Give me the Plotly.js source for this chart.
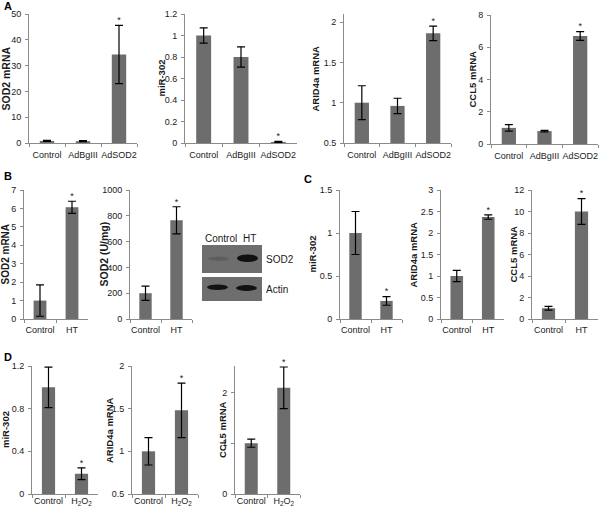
<!DOCTYPE html>
<html>
<head>
<meta charset="utf-8">
<script src="https://cdn.plot.ly/plotly-3.0.1.min.js"></script>
<style>
  html, body { margin: 0; padding: 0; background: #fff; }
  #chart { width: 600px; height: 508px; }
</style>
</head>
<body>
<div id="chart"></div>
<script>
// ---------- DATA ----------
const groupsA = ['Control', 'AdBgIII', 'AdSOD2'];
const groupsHT = ['Control', 'HT'];
const groupsH2O2 = ['Control', 'H<sub>2</sub>O<sub>2</sub>'];

// Panel A
const aSod2 = [0.8, 0.7, 34.3];       const aSod2Err = [0.2, 0.2, 11.3];
const aMir302 = [1.0, 0.80, 0.01];    const aMir302Err = [0.07, 0.095, 0.005];
const aArid4a = [1.0, 0.96, 1.86];    const aArid4aErr = [0.21, 0.095, 0.09];
const aCcl5 = [1.0, 0.8, 6.7];        const aCcl5Err = [0.2, 0.05, 0.27];
const sigA = [false, false, true];

// Panel B
const bSod2 = [1.0, 6.06];            const bSod2Err = [0.85, 0.33];
const bSod2Act = [200, 765];          const bSod2ActErr = [55, 105];
const sigB = [false, true];

// Panel C
const cMir302 = [1.0, 0.21];          const cMir302Err = [0.25, 0.05];
const cArid4a = [1.0, 2.37];          const cArid4aErr = [0.13, 0.05];
const cCcl5 = [1.0, 10.0];            const cCcl5Err = [0.18, 1.2];
const sigC = [false, true];

// Panel D
const dMir302 = [1.0, 0.19];          const dMir302Err = [0.19, 0.055];
const dArid4a = [1.0, 1.48];          const dArid4aErr = [0.16, 0.32];
const dCcl5 = [1.0, 2.09];            const dCcl5Err = [0.08, 0.41];
const sigD = [false, true];

// Blot labels
const blotLanes = ['Control', 'HT'];
const blotProteins = ['SOD2', 'Actin'];

// ---------- LAYOUT HELPERS ----------
const W = 600, H = 508;
const px = v => v / W;
const py = v => 1 - v / H;
const FONT = 'Arial, "Liberation Sans", Helvetica, sans-serif';
const BAR = '#6d6d6d';
const AXIS = '#8a8a8a';
const TXT = '#1a1a1a';

const panels = [
  {cats: groupsA, y: aSod2, e: aSod2Err, sig: sigA, title: 'SOD2 mRNA', ts: 10.5, x0: 29, x1: 137, top: 14, bot: 143, range: [0, 50], dtick: 10, tx: 6, xs: 3},
  {cats: groupsA, y: aMir302, e: aMir302Err, sig: sigA, title: 'miR-302', ts: 9.5, x0: 185, x1: 297, top: 14, bot: 143, range: [0, 1.2], dtick: 0.2, tx: 161, xs: 3},
  {cats: groupsA, y: aArid4a, e: aArid4aErr, sig: sigA, title: 'ARID4a mRNA', ts: 9.5, x0: 344, x1: 451, top: 14, bot: 143, range: [0.5, 2.1], tickvals: [0.5, 1, 1.5, 2], tx: 315, xs: 3},
  {cats: groupsA, y: aCcl5, e: aCcl5Err, sig: sigA, title: 'CCL5 mRNA', ts: 9.5, x0: 491, x1: 598, top: 15, bot: 144, range: [0, 8], dtick: 2, tx: 472, xs: 3},

  {cats: groupsHT, y: bSod2, e: bSod2Err, sig: sigB, title: 'SOD2 mRNA', ts: 10, x0: 24, x1: 88, top: 190, bot: 319, range: [0, 7], dtick: 1, tx: 5, xs: 2},
  {cats: groupsHT, y: bSod2Act, e: bSod2ActErr, sig: sigB, title: 'SOD2 (U/mg)', ts: 10.5, x0: 130, x1: 192, top: 190, bot: 319, range: [0, 1000], dtick: 200, tx: 103, xs: 2},

  {cats: groupsHT, y: cMir302, e: cMir302Err, sig: sigC, title: 'miR-302', ts: 9.5, x0: 340, x1: 402, top: 190, bot: 319, range: [0, 1.5], dtick: 0.5, tx: 312, xs: 2},
  {cats: groupsHT, y: cArid4a, e: cArid4aErr, sig: sigC, title: 'ARID4a mRNA', ts: 9.5, x0: 441, x1: 504, top: 190, bot: 319, range: [0, 3], dtick: 0.5, tx: 413, xs: 2},
  {cats: groupsHT, y: cCcl5, e: cCcl5Err, sig: sigC, title: 'CCL5 mRNA', ts: 9.5, x0: 532, x1: 598, top: 190, bot: 319, range: [0, 12], dtick: 2, tx: 513, xs: 2},

  {cats: groupsH2O2, y: dMir302, e: dMir302Err, sig: sigD, title: 'miR-302', ts: 9.5, x0: 32, x1: 98, top: 366, bot: 494, range: [0, 1.2], dtick: 0.4, tx: 5, xs: -2},
  {cats: groupsH2O2, y: dArid4a, e: dArid4aErr, sig: sigD, title: 'ARID4a mRNA', ts: 9.5, x0: 132, x1: 198, top: 366, bot: 494, range: [0.5, 2], dtick: 0.5, tx: 109, xs: -2},
  {cats: groupsH2O2, y: dCcl5, e: dCcl5Err, sig: sigD, title: 'CCL5 mRNA', ts: 9.5, x0: 235, x1: 300, top: 366, bot: 494, range: [0, 2.52], tickvals: [0, 1, 2], tx: 222, xs: -2}
];

const traces = [];
const layout = {
  width: W, height: H,
  margin: {l: 0, r: 0, t: 0, b: 0},
  paper_bgcolor: '#ffffff',
  plot_bgcolor: '#ffffff',
  showlegend: false,
  font: {family: FONT, size: 9, color: TXT},
  annotations: [],
  shapes: []
};

panels.forEach((p, i) => {
  const n = i + 1;
  const xa = n === 1 ? 'x' : 'x' + n;
  const ya = n === 1 ? 'y' : 'y' + n;
  const base = p.range[0];
  traces.push({
    type: 'bar',
    x: p.cats,
    y: p.y.map(v => v - base),
    base: base,
    width: 0.4,
    xaxis: xa, yaxis: ya,
    cliponaxis: false,
    marker: {color: BAR, line: {width: 0}},
    error_y: {type: 'data', array: p.e, visible: true, color: '#000', thickness: 1.2, width: 4},
    hoverinfo: 'skip'
  });
  // significance asterisks (text marks placed through the axis scale)
  const sx = [], sy = [];
  p.sig.forEach((s, k) => { if (s) { sx.push(p.cats[k]); sy.push(p.y[k] + p.e[k]); } });
  if (sx.length) {
    traces.push({
      type: 'scatter', mode: 'text', x: sx, y: sy, text: sx.map(() => '*'),
      textposition: 'top center', cliponaxis: false,
      textfont: {family: FONT, size: 9, color: TXT},
      xaxis: xa, yaxis: ya, hoverinfo: 'skip'
    });
  }
  const xKey = n === 1 ? 'xaxis' : 'xaxis' + n;
  const yKey = n === 1 ? 'yaxis' : 'yaxis' + n;
  layout[xKey] = {
    domain: [px(p.x0), px(p.x1)],
    anchor: ya,
    type: 'category',
    range: [-0.5, p.cats.length - 0.5],
    showline: true, linecolor: AXIS, linewidth: 1,
    ticks: 'outside', tickson: 'boundaries', ticklen: 3, tickcolor: AXIS,
    showgrid: false, zeroline: false, fixedrange: true,
    tickangle: 0,
    tickfont: {family: FONT, size: 9, color: TXT},
    ticklabelstandoff: p.xs
  };
  const yax = {
    domain: [py(p.bot), py(p.top)],
    anchor: xa,
    range: p.range,
    showline: true, linecolor: AXIS, linewidth: 1,
    ticks: 'outside', ticklen: 3, tickcolor: AXIS,
    showgrid: false, zeroline: false, fixedrange: true,
    tickfont: {family: FONT, size: 9, color: TXT},
    ticklabelstandoff: 2
  };
  if (p.tickvals) { yax.tickmode = 'array'; yax.tickvals = p.tickvals; }
  else { yax.dtick = p.dtick; yax.tick0 = p.range[0]; }
  layout[yKey] = yax;

  layout.annotations.push({
    xref: 'paper', yref: 'paper',
    x: px(p.tx), y: py((p.top + p.bot) / 2),
    text: '<b>' + p.title + '</b>', textangle: -90,
    showarrow: false, xanchor: 'center', yanchor: 'middle',
    font: {family: FONT, size: p.ts, color: TXT}
  });
});

// panel letters
[['A', 2, 6], ['B', 2, 176], ['C', 302, 179], ['D', 2, 357]].forEach(([t, x, y]) => {
  layout.annotations.push({
    xref: 'paper', yref: 'paper', x: px(x), y: py(y),
    text: '<b>' + t + '</b>', showarrow: false, xanchor: 'left', yanchor: 'middle',
    font: {family: FONT, size: 11, color: '#000'}
  });
});

// ---------- Western blot (image-like decoration) ----------
const rect = (x0, y0, x1, y1, fill, type) => ({
  type: type || 'rect', xref: 'paper', yref: 'paper',
  x0: px(x0), x1: px(x1), y0: py(y1), y1: py(y0),
  fillcolor: fill, line: {width: 0}, layer: 'above'
});
layout.shapes.push(rect(202, 245, 262, 273, '#6e6e6e'));
layout.shapes.push(rect(202, 277, 262, 301, '#6e6e6e'));
layout.shapes.push(rect(208, 256.5, 229, 261, '#5e5e5e', 'circle'));
layout.shapes.push(rect(237, 254.5, 258, 262, '#101010', 'circle'));
layout.shapes.push(rect(207, 284.5, 228, 290, '#121212', 'circle'));
layout.shapes.push(rect(236, 285, 257, 291, '#121212', 'circle'));

[[blotLanes[0], 221], [blotLanes[1], 249]].forEach(([t, x]) => {
  layout.annotations.push({
    xref: 'paper', yref: 'paper', x: px(x), y: py(238),
    text: t, showarrow: false, xanchor: 'center', yanchor: 'middle',
    font: {family: FONT, size: 10, color: TXT}
  });
});
[[blotProteins[0], 259], [blotProteins[1], 289]].forEach(([t, y]) => {
  layout.annotations.push({
    xref: 'paper', yref: 'paper', x: px(264), y: py(y),
    text: t, showarrow: false, xanchor: 'left', yanchor: 'middle',
    font: {family: FONT, size: 10, color: TXT}
  });
});

Plotly.newPlot('chart', traces, layout, {displayModeBar: false, staticPlot: true});
</script>
</body>
</html>
